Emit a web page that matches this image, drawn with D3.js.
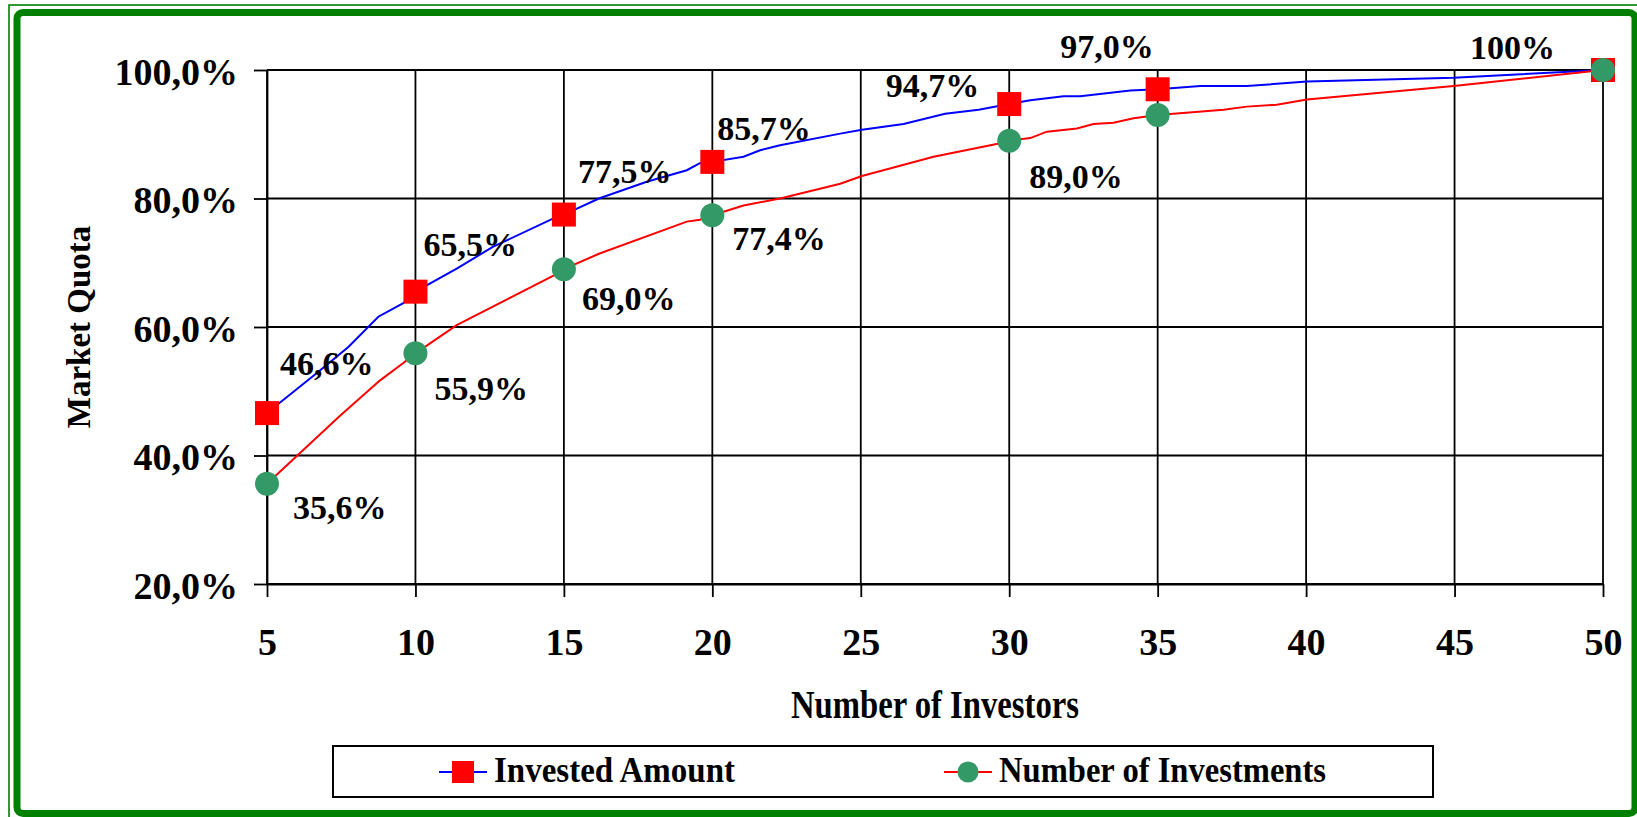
<!DOCTYPE html>
<html>
<head>
<meta charset="utf-8">
<script src="https://cdn.jsdelivr.net/npm/d3@7"></script>
<style>
  body { margin: 0; background: #fff; }
  svg text { font-family: "Liberation Serif", "Times New Roman", serif; font-weight: bold; fill: #000; }
</style>
</head>
<body>
<div id="chart"></div>
<script>
'use strict';

// data
const investorTicks = [5, 10, 15, 20, 25, 30, 35, 40, 45, 50];
const quotaTicks = [20, 40, 60, 80, 100];

// Invested Amount (blue line)
const amountX = [5, 6.67, 7.74, 8.75, 9.59, 10, 11.39, 12.62, 14.65, 15, 16.18, 17.79, 19.14, 19.58, 20,
  21.05, 21.61, 22.28, 24.31, 25.04, 26.44, 27.84, 28.97, 30, 30.71, 31.83, 32.39, 34.08, 35,
  36.44, 38.0, 40.03, 44.97, 50];
const amountY = [46.6, 52.8, 56.9, 61.6, 63.7, 65.5, 69.1, 72.5, 76.9, 77.5, 80.0, 82.6, 84.4, 85.5, 85.7,
  86.5, 87.5, 88.3, 90.1, 90.7, 91.6, 93.2, 93.8, 94.7, 95.3, 95.9, 95.9, 96.8, 97.0,
  97.5, 97.5, 98.2, 98.8, 100];

// Number of Investments (red line)
const countX = [5, 7.46, 8.81, 9.59, 10, 11.39, 14.65, 15, 16.18, 19.14, 19.58, 20, 21.05, 22.28, 24.31,
  25.04, 27.45, 29.7, 30, 30.71, 31.27, 32.28, 32.84, 33.51, 34.19, 35, 37.22, 38.0, 39.01,
  40.03, 44.97, 50];
const countY = [35.6, 46.2, 51.7, 54.4, 55.9, 60.3, 68.0, 69.0, 71.4, 76.4, 76.7, 77.4, 78.9, 80.0, 82.3,
  83.5, 86.5, 88.6, 89.0, 89.4, 90.4, 90.9, 91.6, 91.8, 92.5, 93.0, 93.8, 94.3, 94.6,
  95.4, 97.5, 100];

const markerX = [5, 10, 15, 20, 30, 35, 50];
const amountMarks = [46.6, 65.5, 77.5, 85.7, 94.7, 97.0, 100];
const countMarks = [35.6, 55.9, 69.0, 77.4, 89.0, 93.0, 100];
const amountLabels = ['46,6%', '65,5%', '77,5%', '85,7%', '94,7%', '97,0%', '100%'];
const countLabels = ['35,6%', '55,9%', '69,0%', '77,4%', '89,0%', '', ''];

const seriesNames = ['Invested Amount', 'Number of Investments'];

const W = 1637, H = 817;
const FONT = '"Liberation Serif", "Times New Roman", serif';

const svg = d3.select('#chart').append('svg')
    .attr('width', W)
    .attr('height', H)
    .attr('font-family', FONT)
    .attr('font-weight', 'bold');

// green frame
svg.append('rect')
    .attr('x', 9).attr('y', 5)
    .attr('width', W).attr('height', H)
    .attr('fill', 'none').attr('stroke', '#008000').attr('stroke-width', 1.6);
svg.append('rect')
    .attr('x', 17).attr('y', 12.5)
    .attr('width', 1618).attr('height', 801)
    .attr('rx', 6)
    .attr('fill', '#fff').attr('stroke', '#008000').attr('stroke-width', 7);

const xScale = d3.scaleLinear().domain([5, 50]).range([267, 1603]);
const yScale = d3.scaleLinear().domain([20, 100]).range([584, 70]);

// grid
svg.append('g').selectAll('line')
    .data(quotaTicks)
    .join('line')
    .attr('x1', xScale(5)).attr('x2', xScale(50))
    .attr('y1', d => yScale(d)).attr('y2', d => yScale(d))
    .attr('stroke', '#000').attr('stroke-width', 1.8);
svg.append('g').selectAll('line')
    .data(investorTicks)
    .join('line')
    .attr('x1', d => xScale(d)).attr('x2', d => xScale(d))
    .attr('y1', yScale(20)).attr('y2', yScale(100))
    .attr('stroke', '#000').attr('stroke-width', 1.8);

// axes
const yAxis = svg.append('g')
    .attr('transform', 'translate(' + xScale(5) + ',0)')
    .call(d3.axisLeft(yScale)
        .tickValues(quotaTicks)
        .tickSize(13).tickSizeOuter(0).tickPadding(16)
        .tickFormat(d => d.toFixed(1).replace('.', ',') + '%'));
yAxis.selectAll('text').attr('font-size', 38).attr('dy', '0.38em');

const xAxis = svg.append('g')
    .attr('transform', 'translate(0,' + yScale(20) + ')')
    .call(d3.axisBottom(xScale)
        .tickValues(investorTicks)
        .tickSize(13).tickSizeOuter(0).tickPadding(31));
xAxis.selectAll('text').attr('font-size', 38);

[yAxis, xAxis].forEach(a => {
  a.attr('font-family', FONT).attr('font-size', null);
  a.selectAll('line, path').attr('stroke', '#000').attr('stroke-width', 1.8);
});

// axis titles
svg.append('text')
    .attr('x', (xScale(5) + xScale(50)) / 2)
    .attr('y', 718)
    .attr('text-anchor', 'middle')
    .attr('font-size', 39)
    .attr('textLength', 288)
    .attr('lengthAdjust', 'spacingAndGlyphs')
    .text('Number of Investors');

svg.append('text')
    .attr('transform', 'translate(90,' + (yScale(20) + yScale(100)) / 2 + ') rotate(-90)')
    .attr('text-anchor', 'middle')
    .attr('font-size', 33)
    .text('Market Quota');

// lines
const line = d3.line()
    .x(d => xScale(d[0]))
    .y(d => yScale(d[1]));

svg.append('path')
    .datum(d3.zip(amountX, amountY))
    .attr('d', line)
    .attr('fill', 'none').attr('stroke', '#0000ff').attr('stroke-width', 2);

svg.append('g').selectAll('rect')
    .data(d3.zip(markerX, amountMarks))
    .join('rect')
    .attr('x', d => xScale(d[0]) - 12).attr('y', d => yScale(d[1]) - 12)
    .attr('width', 24).attr('height', 24)
    .attr('fill', '#ff0000');

svg.append('path')
    .datum(d3.zip(countX, countY))
    .attr('d', line)
    .attr('fill', 'none').attr('stroke', '#ff0000').attr('stroke-width', 2);

svg.append('g').selectAll('circle')
    .data(d3.zip(markerX, countMarks))
    .join('circle')
    .attr('cx', d => xScale(d[0])).attr('cy', d => yScale(d[1]))
    .attr('r', 12)
    .attr('fill', '#339966');

// data labels, nudged the way they sit in the original
const amountNudge = [[13, -38, 'start'], [8, -36, 'start'], [14, -32, 'start'], [5, -22, 'start'],
  [-30, -7, 'end'], [-4, -31, 'end'], [-48, -11, 'end']];
const countNudge = [[26, 35, 'start'], [19, 47, 'start'], [18, 41, 'start'], [20, 35, 'start'],
  [20, 47, 'start'], [0, 0, 'start'], [0, 0, 'start']];

function drawLabels(values, labels, nudge) {
  svg.append('g').selectAll('text')
      .data(d3.range(markerX.length).filter(i => labels[i]))
      .join('text')
      .attr('x', i => xScale(markerX[i]) + nudge[i][0])
      .attr('y', i => yScale(values[i]) + nudge[i][1])
      .attr('text-anchor', i => nudge[i][2])
      .attr('font-family', FONT)
      .attr('font-size', 34)
      .text(i => labels[i]);
}
drawLabels(amountMarks, amountLabels, amountNudge);
drawLabels(countMarks, countLabels, countNudge);

// legend
const legend = svg.append('g');
legend.append('rect')
    .attr('x', 333).attr('y', 746)
    .attr('width', 1100).attr('height', 51)
    .attr('fill', '#fff').attr('stroke', '#000').attr('stroke-width', 2);

const legendItems = [
  {x: 439, text: seriesNames[0], len: 241, line: '#0000ff', mark: 'square'},
  {x: 944, text: seriesNames[1], len: 327, line: '#ff0000', mark: 'circle'}
];
legendItems.forEach(it => {
  legend.append('line')
      .attr('x1', it.x).attr('x2', it.x + 48)
      .attr('y1', 772).attr('y2', 772)
      .attr('stroke', it.line).attr('stroke-width', 2);
  if (it.mark === 'square') {
    legend.append('rect')
        .attr('x', it.x + 13).attr('y', 761)
        .attr('width', 22).attr('height', 22)
        .attr('fill', '#ff0000');
  } else {
    legend.append('circle')
        .attr('cx', it.x + 24).attr('cy', 772).attr('r', 10.5)
        .attr('fill', '#339966');
  }
  legend.append('text')
      .attr('x', it.x + 55).attr('y', 782)
      .attr('font-size', 35)
      .attr('textLength', it.len)
      .attr('lengthAdjust', 'spacingAndGlyphs')
      .text(it.text);
});
</script>
</body>
</html>
